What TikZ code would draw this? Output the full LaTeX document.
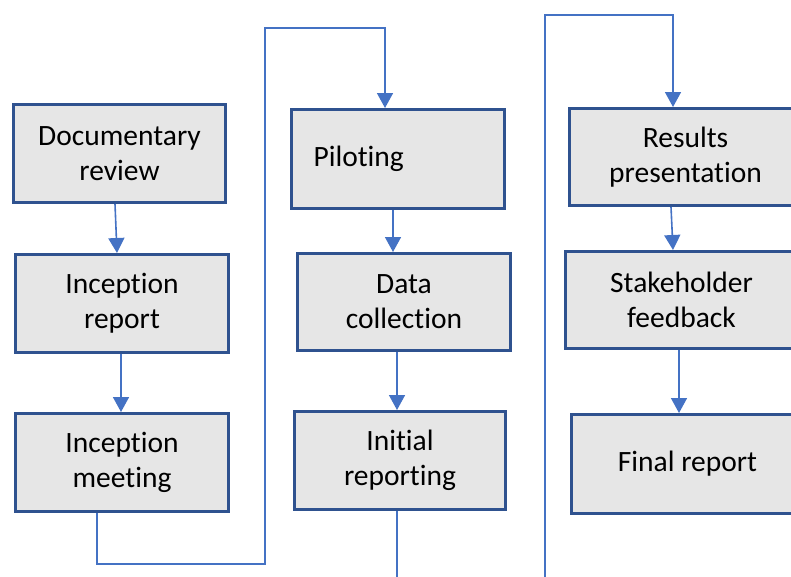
\documentclass[tikz,border=0pt]{standalone}
\usepackage{fontspec}
\setmainfont{Carlito}[Ligatures=NoCommon]
\usetikzlibrary{arrows.meta,calc}
\definecolor{boxfill}{HTML}{E6E6E6}
\definecolor{boxline}{HTML}{2F528F}
\definecolor{connblue}{HTML}{4472C4}
\begin{document}
\begin{tikzpicture}[x=1pt,y=-1pt,
  stepbox/.style={draw=boxline,line width=3pt,fill=boxfill,anchor=north west,inner sep=0pt,
    font=\fontsize{29.5}{35}\selectfont,align=center},
  conn/.style={draw=connblue,line width=1.6pt},
  arr/.style={conn,-{Triangle[width=16pt,length=15pt]}}]
\useasboundingbox (0,0) rectangle (791,576);
\clip (0,0) rectangle (791,576);
% column 1
\node[stepbox,minimum width=212pt,minimum height=98pt] (doc) at (12,103) {Documentary\\review};
\node[stepbox,minimum width=213pt,minimum height=98pt] (irep) at (14,253) {Inception\\report};
\node[stepbox,minimum width=213pt,minimum height=98pt] (imeet) at (14,412) {Inception\\meeting};
% column 2
\node[stepbox,minimum width=213pt,minimum height=99pt,text width=169pt,inner xsep=22pt,align=left] (pilot) at (290,108) {Piloting};
\node[stepbox,minimum width=213pt,minimum height=97pt] (data) at (296,252) {Data\\collection};
\node[stepbox,minimum width=211pt,minimum height=98pt] (initr) at (293,410) {Initial\\reporting};
% column 3
\node[stepbox,minimum width=232pt,minimum height=97pt] (results) at (568,107) {Results\\presentation};
\node[stepbox,minimum width=232pt,minimum height=97pt] (stake) at (564,250) {Stakeholder\\feedback};
\node[stepbox,minimum width=232pt,minimum height=99pt] (final) at (570,413) {Final report};
% connector coordinates
\coordinate (c1) at (265,564);
\coordinate (c2) at (265,28);
\coordinate (e1) at (397,590);
\coordinate (s1) at (545,590);
\coordinate (s2) at (545,15);
% connectors
\draw[arr] ($(doc.south west)+(103,0)$) -- ($(irep.north west)+(103,0)$);
\draw[arr] ($(irep.south west)+(107,0)$) -- ($(imeet.north west)+(107,0)$);
\draw[arr] ($(imeet.south west)+(83,0)$) |- (c1) -- (c2) -| ($(pilot.north west)+(95,0)$);
\draw[arr] ($(pilot.south west)+(103,0)$) -- ($(data.north west)+(97,0)$);
\draw[arr] ($(data.south west)+(101,0)$) -- ($(initr.north west)+(104,0)$);
\draw[conn] ($(initr.south west)+(104,0)$) -- (e1);
\draw[arr] (s1) -- (s2) -| ($(results.north west)+(105,0)$);
\draw[arr] ($(results.south west)+(103,0)$) -- ($(stake.north west)+(109,0)$);
\draw[arr] ($(stake.south west)+(115,0)$) -- ($(final.north west)+(109,0)$);
\end{tikzpicture}
\end{document}
